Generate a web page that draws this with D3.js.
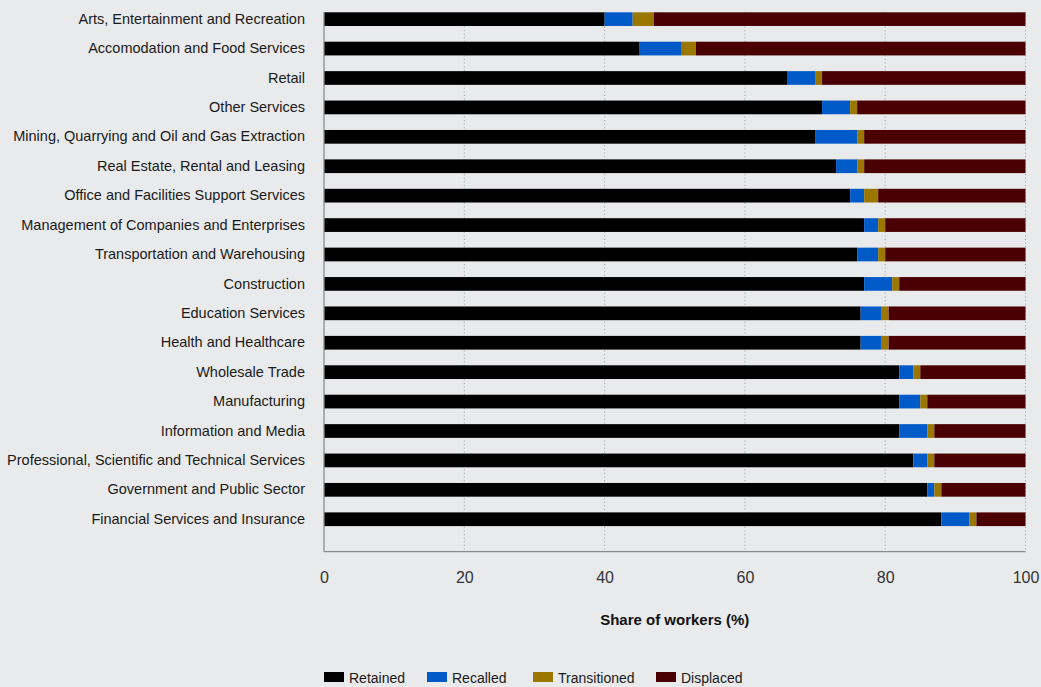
<!DOCTYPE html>
<html>
<head>
<meta charset="utf-8">
<script src="https://cdn.jsdelivr.net/npm/d3@7"></script>
<style>
  html, body { margin: 0; padding: 0; background: #e9eaec; }
  svg { display: block; }
  text { font-family: "Liberation Sans", Arial, sans-serif; }
</style>
</head>
<body>
<svg id="chart" width="1041" height="687"></svg>
<script>
const categories = [
  "Arts, Entertainment and Recreation",
  "Accomodation and Food Services",
  "Retail",
  "Other Services",
  "Mining, Quarrying and Oil and Gas Extraction",
  "Real Estate, Rental and Leasing",
  "Office and Facilities Support Services",
  "Management of Companies and Enterprises",
  "Transportation and Warehousing",
  "Construction",
  "Education Services",
  "Health and Healthcare",
  "Wholesale Trade",
  "Manufacturing",
  "Information and Media",
  "Professional, Scientific and Technical Services",
  "Government and Public Sector",
  "Financial Services and Insurance"
];
const retained     = [40, 45, 66, 71, 70, 73, 75, 77, 76, 77, 76.5, 76.5, 82, 82, 82, 84, 86, 88];
const recalled     = [4, 6, 4, 4, 6, 3, 2, 2, 3, 4, 3, 3, 2, 3, 4, 2, 1, 4];
const transitioned = [3, 2, 1, 1, 1, 1, 2, 1, 1, 1, 1, 1, 1, 1, 1, 1, 1, 1];
const displaced    = [53, 47, 29, 24, 23, 23, 21, 20, 20, 18, 19.5, 19.5, 15, 14, 13, 13, 12, 7];
const seriesNames  = ["Retained", "Recalled", "Transitioned", "Displaced"];
const seriesColors = ["#000000", "#005ac8", "#9b7700", "#4a0003"];
const xTicks = [0, 20, 40, 60, 80, 100];
const xTitle = "Share of workers (%)";

const rows = categories.map((c, i) => ({
  cat: c, Retained: retained[i], Recalled: recalled[i],
  Transitioned: transitioned[i], Displaced: displaced[i]
}));

const svg = d3.select("#chart");
const x = d3.scaleLinear().domain([0, 100]).range([324, 1025.5]);
const y = d3.scaleBand().domain(categories).range([12.3, 526.1]).paddingInner(0.534).paddingOuter(0);
const axisTop = 12, axisBottom = 551.7;

// gridlines
svg.append("g").selectAll("line").data(xTicks.filter(t => t > 0)).join("line")
  .attr("x1", d => x(d)).attr("x2", d => x(d))
  .attr("y1", axisTop).attr("y2", axisBottom)
  .attr("stroke", "#a9a9a9").attr("stroke-width", 1)
  .attr("stroke-dasharray", "1.2,2.4");

// stacked bars
const stack = d3.stack().keys(seriesNames)(rows);
const color = d3.scaleOrdinal().domain(seriesNames).range(seriesColors);
svg.append("g").selectAll("g").data(stack).join("g")
  .attr("fill", d => color(d.key))
  .selectAll("rect").data(d => d).join("rect")
  .attr("x", d => x(d[0]))
  .attr("width", d => x(d[1]) - x(d[0]))
  .attr("y", d => y(d.data.cat))
  .attr("height", y.bandwidth());

// axis lines
svg.append("line").attr("x1", x(0)).attr("x2", x(0)).attr("y1", axisTop).attr("y2", axisBottom)
  .attr("stroke", "#8a8a8a").attr("stroke-width", 1.3);
svg.append("line").attr("x1", x(0)).attr("x2", x(100)).attr("y1", axisBottom).attr("y2", axisBottom)
  .attr("stroke", "#8a8a8a").attr("stroke-width", 1.3);

// category labels
const yAxis = d3.axisLeft(y).tickSize(0).tickPadding(19);
const gy = svg.append("g").attr("transform", `translate(${x(0)},0)`).call(yAxis);
gy.select(".domain").remove();
gy.selectAll("text").attr("font-size", "14.5px").attr("fill", "#1a1a1a")
  .attr("font-family", "'Liberation Sans', Arial, sans-serif");

// x tick labels
const xAxis = d3.axisBottom(x).tickValues(xTicks).tickSize(0).tickPadding(20).tickFormat(d3.format("d"));
const gx = svg.append("g").attr("transform", `translate(0,${axisBottom})`).call(xAxis);
gx.select(".domain").remove();
gx.selectAll("text").attr("font-size", "16px").attr("fill", "#333")
  .attr("font-family", "'Liberation Sans', Arial, sans-serif");

// axis title
svg.append("text").attr("x", (x(0) + x(100)) / 2).attr("y", 625)
  .attr("text-anchor", "middle").attr("font-size", "15px").attr("font-weight", "bold")
  .attr("fill", "#111").text(xTitle);

// legend
const legendX = [324, 427, 533, 656];
const lg = svg.append("g").selectAll("g").data(seriesNames).join("g")
  .attr("transform", (d, i) => `translate(${legendX[i]},672)`);
lg.append("rect").attr("width", 20).attr("height", 10).attr("fill", d => color(d));
lg.append("text").attr("x", 25).attr("y", 10.5).attr("font-size", "14px").attr("fill", "#1a1a1a").text(d => d);
</script>
</body>
</html>
